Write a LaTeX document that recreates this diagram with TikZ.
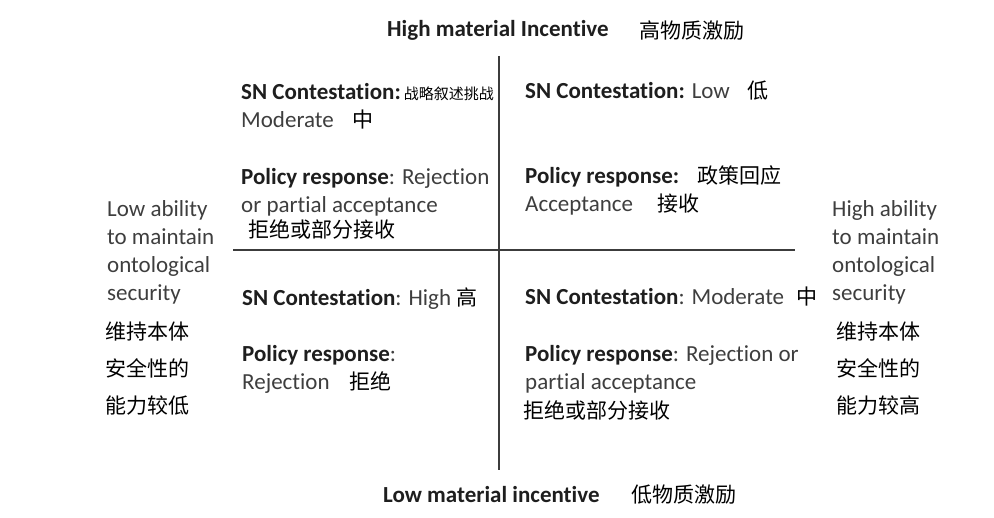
\documentclass[tikz,border=0pt]{standalone}
\usepackage{fontspec}
\setmainfont{Carlito}[Ligatures=NoCommon]
\newfontfamily\cjk{Noto Sans CJK SC}
\usetikzlibrary{positioning}
\definecolor{inkgray}{RGB}{62,62,62}
\definecolor{headgray}{RGB}{30,30,30}
\definecolor{axisgray}{RGB}{60,60,60}
\newcommand{\zh}[1]{{\cjk\fontsize{21}{28}\selectfont\color{black}#1}}
\newcommand{\zhsmall}[1]{{\cjk\fontsize{15}{28}\selectfont\color{black}#1}}
\newcommand{\hd}[1]{{\bfseries\color{headgray}#1}}

\begin{document}
\begin{tikzpicture}[x=1pt, y=-1pt,
  quad/.style={anchor=base west, align=left, inner sep=0pt, text=inkgray,
               font=\fontsize{23}{28}\selectfont},
  sidezh/.style={anchor=base west, align=left, inner sep=0pt,
                 font=\cjk\fontsize{21}{37}\selectfont},
  axis/.style={line width=2pt, axisgray}
]
\useasboundingbox (0,0) rectangle (994,518);

% axes
\coordinate (vtop) at (499,56);
\coordinate (vbot) at (499,470);
\coordinate (hleft) at (233,250);
\coordinate (hright) at (795,250);
\draw[axis] (vtop) -- (vbot);
\draw[axis] (hleft) -- (hright);

% axis titles
\node[quad] (hightitle) at (387,37) {\hd{High material Incentive}\hspace{31pt}\raisebox{-2pt}{\zh{高物质激励}}};
\node[quad] (lowtitle) at (383,503) {\hd{Low material incentive}\hspace{32pt}\zh{低物质激励}};

% quadrants (anchored at the baseline of their last line)
\node[quad] (topleft) at (241,238) {\hd{SN Contestation:}\hspace{3pt}\zhsmall{战略叙述挑战}\\
  Moderate\hspace{19pt}\zh{中}\\[29pt]
  \hd{Policy response}: Rejection\\
  or partial acceptance\\[-3pt]
  \hspace{7pt}\zh{拒绝或部分接收}};
\node[quad] (topright) at (525,212) {\hd{SN Contestation:} Low\hspace{18pt}\zh{低}\\[57pt]
  \hd{Policy response:}\hspace{18pt}\zh{政策回应}\\
  Acceptance\hspace{24pt}\zh{接收}};
\node[quad] (botleft) at (242,390) {\hd{SN Contestation}: High\hspace{5pt}\zh{高}\\[28pt]
  \hd{Policy response}:\\
  Rejection\hspace{20pt}\zh{拒绝}};
\node[quad] (botright) at (525,419) {\hd{SN Contestation}: Moderate\hspace{12pt}\zh{中}\\[29pt]
  \hd{Policy response}: Rejection or\\
  partial acceptance\\[1pt]
  \hspace{-2pt}\zh{拒绝或部分接收}};

% side labels
\node[quad] (leftlabel) at (107,301) {Low ability\\to maintain\\ontological\\security};
\node[sidezh] (leftzh) at (105,414) {维持本体\\安全性的\\能力较低};
\node[quad] (rightlabel) at (832,301) {High ability\\to maintain\\ontological\\security};
\node[sidezh] (rightzh) at (836,414) {维持本体\\安全性的\\能力较高};
\end{tikzpicture}
\end{document}
